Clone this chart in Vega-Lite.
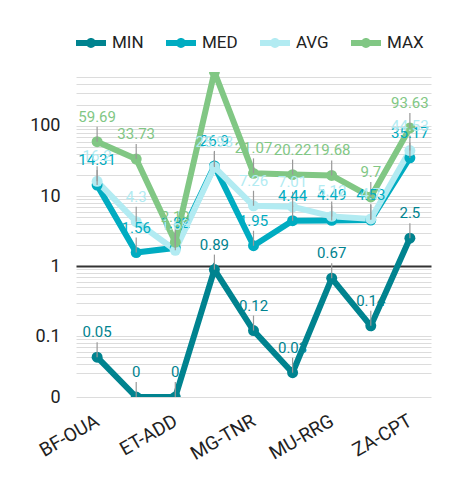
{
  "$schema": "https://vega.github.io/schema/vega-lite/v6.json",
  "autosize": "none",
  "width": 355,
  "height": 325,
  "padding": {"left": 76, "top": 72, "right": 28, "bottom": 97},
  "background": "white",
  "config": {
    "font": "Roboto",
    "view": {"stroke": null},
    "mark": {"invalid": "show"}
  },
  "data": {
    "values": [
      {"site": "BF-OUA", "stat": "MIN", "value": 0.05},
      {"site": "CI-ABJ", "stat": "MIN", "value": 0},
      {"site": "ET-ADD", "stat": "MIN", "value": 0},
      {"site": "KE-NBO", "stat": "MIN", "value": 0.89},
      {"site": "MG-TNR", "stat": "MIN", "value": 0.12},
      {"site": "MU-MRU", "stat": "MIN", "value": 0.03},
      {"site": "MU-RRG", "stat": "MIN", "value": 0.67},
      {"site": "NG-LOS", "stat": "MIN", "value": 0.14},
      {"site": "ZA-CPT", "stat": "MIN", "value": 2.5},
      {"site": "BF-OUA", "stat": "MED", "value": 14.31},
      {"site": "CI-ABJ", "stat": "MED", "value": 1.56},
      {"site": "ET-ADD", "stat": "MED", "value": 1.82},
      {"site": "KE-NBO", "stat": "MED", "value": 26.9},
      {"site": "MG-TNR", "stat": "MED", "value": 1.95},
      {"site": "MU-MRU", "stat": "MED", "value": 4.44},
      {"site": "MU-RRG", "stat": "MED", "value": 4.49},
      {"site": "NG-LOS", "stat": "MED", "value": 4.53},
      {"site": "ZA-CPT", "stat": "MED", "value": 35.17},
      {"site": "BF-OUA", "stat": "AVG", "value": 16.2},
      {"site": "CI-ABJ", "stat": "AVG", "value": 4.3},
      {"site": "ET-ADD", "stat": "AVG", "value": 1.68},
      {"site": "KE-NBO", "stat": "AVG", "value": 25.93},
      {"site": "MG-TNR", "stat": "AVG", "value": 7.26},
      {"site": "MU-MRU", "stat": "AVG", "value": 7.01},
      {"site": "MU-RRG", "stat": "AVG", "value": 5.12},
      {"site": "NG-LOS", "stat": "AVG", "value": 4.7},
      {"site": "ZA-CPT", "stat": "AVG", "value": 44.53},
      {"site": "BF-OUA", "stat": "MAX", "value": 59.69},
      {"site": "CI-ABJ", "stat": "MAX", "value": 33.73},
      {"site": "ET-ADD", "stat": "MAX", "value": 2.19},
      {"site": "KE-NBO", "stat": "MAX", "value": 1050},
      {"site": "MG-TNR", "stat": "MAX", "value": 21.07},
      {"site": "MU-MRU", "stat": "MAX", "value": 20.22},
      {"site": "MU-RRG", "stat": "MAX", "value": 19.68},
      {"site": "NG-LOS", "stat": "MAX", "value": 9.7},
      {"site": "ZA-CPT", "stat": "MAX", "value": 93.63}
    ]
  },
  "encoding": {
    "x": {
      "field": "site",
      "type": "nominal",
      "sort": null,
      "scale": {"type": "point", "padding": 0.54},
      "axis": {
        "title": null,
        "domain": false,
        "ticks": false,
        "grid": false,
        "labelAngle": -30,
        "labelAlign": "right",
        "labelBaseline": "middle",
        "labelPadding": 22,
        "labelFontSize": 19,
        "labelColor": "#222222",
        "labelOverlap": "parity"
      }
    },
    "y": {
      "field": "value",
      "type": "quantitative",
      "scale": {"type": "log", "domain": [0.0135, 590], "nice": false, "clamp": true},
      "axis": {
        "title": null,
        "domain": false,
        "ticks": false,
        "values": [0.0135, 0.03, 0.04, 0.05, 0.06, 0.07, 0.08, 0.09, 0.1, 0.2, 0.3, 0.4, 0.5, 0.6, 0.7, 0.8, 0.9, 1, 2, 3, 4, 5, 6, 7, 8, 9, 10, 20, 30, 40, 50, 60, 70, 80, 90, 100, 200, 300, 400, 500],
        "labelExpr": "datum.value < 0.02 ? '0' : datum.value == 0.1 ? '0.1' : datum.value == 1 ? '1' : datum.value == 10 ? '10' : datum.value == 100 ? '100' : ''",
        "labelOverlap": false,
        "labelFontSize": 18,
        "labelColor": "#222222",
        "labelPadding": 16,
        "gridColor": {"condition": {"test": "datum.value == 1", "value": "#333333"}, "value": "#dcdcdc"},
        "gridWidth": {"condition": {"test": "datum.value == 1", "value": 2}, "value": 1}
      }
    }
  },
  "layer": [
    {
      "mark": {"type": "line", "strokeWidth": 6, "clip": true, "point": {"filled": true, "size": 120}},
      "encoding": {
        "color": {
          "field": "stat",
          "type": "nominal",
          "scale": {"domain": ["MIN", "MED", "AVG", "MAX"], "range": ["#00838f", "#00acc1", "#b2ebf2", "#81c784"]},
          "legend": {
            "title": null,
            "orient": "none",
            "direction": "horizontal",
            "legendX": 0,
            "legendY": -44,
            "padding": 0,
            "symbolType": "M-1,-0.2H1V0.2H-1Z M0.33,0A0.33,0.33,0,1,1,-0.33,0A0.33,0.33,0,1,1,0.33,0Z",
            "symbolSize": 900,
            "symbolStrokeWidth": 0,
            "labelFontSize": 17,
            "labelColor": "#222222",
            "labelOffset": 6,
            "columnPadding": 22,
            "encode": {"symbols": {"update": {"fill": {"scale": "color", "field": "value"}, "stroke": {"value": "transparent"}, "opacity": {"value": 1}}}}
          }
        }
      }
    },
    {
      "mark": {"type": "rule", "clip": true, "color": "#999999", "strokeWidth": 1.2, "y2Offset": -15},
      "encoding": {
        "y2": {"field": "value"}
      }
    },
    {
      "mark": {"type": "text", "clip": true, "fontSize": 15, "dy": -20, "baseline": "alphabetic"},
      "encoding": {
        "text": {"field": "value", "type": "nominal"},
        "color": {"field": "stat", "type": "nominal", "legend": null}
      }
    }
  ]
}
